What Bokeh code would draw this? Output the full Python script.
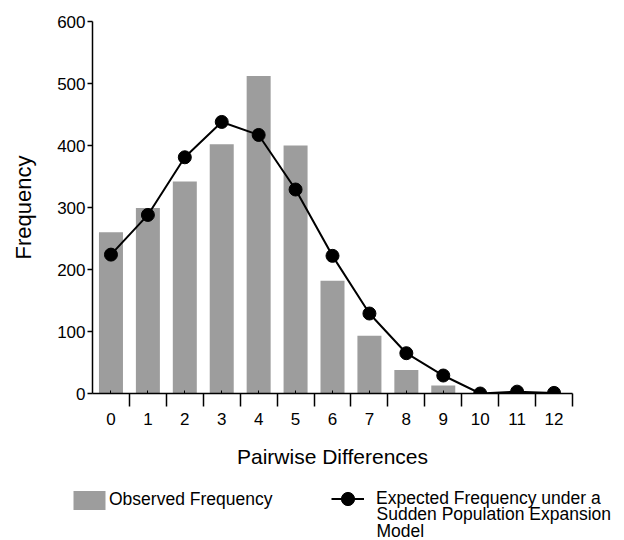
from bokeh.plotting import figure
from bokeh.models import FixedTicker, Legend, LegendItem, Range1d, Label
from bokeh.layouts import column
from bokeh.embed import file_html
from bokeh.resources import INLINE

differences = list(range(13))
observed = [260, 299, 342, 402, 512, 400, 182, 93, 38, 13, 0, 0, 0]
expected = [224, 288, 381, 438, 417, 329, 222, 129, 65, 29, 0, 3, 1]
y_ticks = [0, 100, 200, 300, 400, 500, 600]
x_tick_labels = [str(d) for d in differences]
legend_labels = ["Observed Frequency", "Expected Frequency under a"]
legend_label_cont = ["Sudden Population Expansion", "Model"]

FONT = "Liberation Sans"
BAR_COLOR = "#9d9d9d"

p = figure(
    output_backend="svg", toolbar_location=None,
    frame_width=480, frame_height=372,
    min_border_left=92, min_border_right=52, min_border_top=21, min_border_bottom=82,
    x_range=Range1d(-0.5, 12.5), y_range=Range1d(0, 600),
)
p.outline_line_color = None
p.xgrid.visible = False
p.ygrid.visible = False

p.vbar(x=differences, top=observed, width=0.65, fill_color=BAR_COLOR, line_color=None)
p.line(differences, expected, line_color="black", line_width=2)
p.scatter(differences, expected, size=13, fill_color="black", line_color="black")

# x axis
xa = p.xaxis[0]
xa.ticker = FixedTicker(ticks=differences, minor_ticks=[d + 0.5 for d in differences])
xa.major_label_overrides = {d: lab for d, lab in zip(differences, x_tick_labels)}
xa.axis_line_width = 1.5
xa.major_tick_in = 3
xa.major_tick_out = 0
xa.major_tick_line_width = 1
xa.minor_tick_in = 0
xa.minor_tick_out = 13
xa.minor_tick_line_width = 1.5
xa.major_label_standoff = 6
xa.major_label_text_font = FONT
xa.major_label_text_font_size = "17px"
xa.major_label_text_color = "black"
xa.axis_label = "Pairwise Differences"
xa.axis_label_text_font = FONT
xa.axis_label_text_font_size = "21px"
xa.axis_label_text_font_style = "normal"
xa.axis_label_text_color = "black"
xa.axis_label_standoff = 17

# y axis
ya = p.yaxis[0]
ya.ticker = FixedTicker(ticks=y_ticks, minor_ticks=[])
ya.axis_line_width = 1.5
ya.major_tick_in = 0
ya.major_tick_out = 5
ya.major_tick_line_width = 1.5
ya.major_label_standoff = 2
ya.major_label_text_font = FONT
ya.major_label_text_font_size = "17px"
ya.major_label_text_color = "black"
ya.axis_label = "Frequency"
ya.axis_label_text_font = FONT
ya.axis_label_text_font_size = "22px"
ya.axis_label_text_font_style = "normal"
ya.axis_label_text_color = "black"
ya.axis_label_standoff = 18

# legend strip (separate figure so the keys are not clipped by the main frame)
LEG_H = 65
q = figure(
    output_backend="svg", toolbar_location=None,
    frame_width=624, frame_height=LEG_H,
    min_border=0, x_range=Range1d(0, 1), y_range=Range1d(0, 1),
)
q.outline_line_color = None
q.axis.visible = False
q.grid.visible = False
# hidden key renderers (same series, only used to draw the legend keys)
key_bar = q.vbar(x=differences, top=observed, width=0.65, fill_color=BAR_COLOR, line_color=None, visible=False)
key_line = q.line(differences, expected, line_color="black", line_width=2, visible=False)
key_dot = q.scatter(differences, expected, size=13, fill_color="black", line_color="black", visible=False)

def make_legend(items, loc, gw, gh, standoff):
    lg = Legend(items=items, location=loc, orientation="vertical")
    lg.padding = 0
    lg.margin = 0
    lg.border_line_color = None
    lg.background_fill_alpha = 0
    lg.glyph_width = gw
    lg.glyph_height = gh
    lg.label_standoff = standoff
    lg.label_text_font = FONT
    lg.label_text_font_size = "17.5px"
    lg.label_text_color = "black"
    lg.spacing = 0
    return lg

leg1 = make_legend([LegendItem(label=legend_labels[0], renderers=[key_bar])], (69, 28.5), 40, 24, 0)
leg2 = make_legend([LegendItem(label=legend_labels[1], renderers=[key_line, key_dot])], (331, 25.5), 33, 33, 12)
q.add_layout(leg1, "center")
q.add_layout(leg2, "center")
for txt, yy in zip(legend_label_cont, [27, 10]):
    q.add_layout(Label(
        x=284, y=yy, x_units="screen", y_units="screen", text=txt,
        text_font=FONT, text_font_size="17.5px", text_color="black",
        text_baseline="middle", text_align="left",
    ))

layout = column(p, q, spacing=0)
open("out.html", "w").write(file_html(layout, INLINE))
